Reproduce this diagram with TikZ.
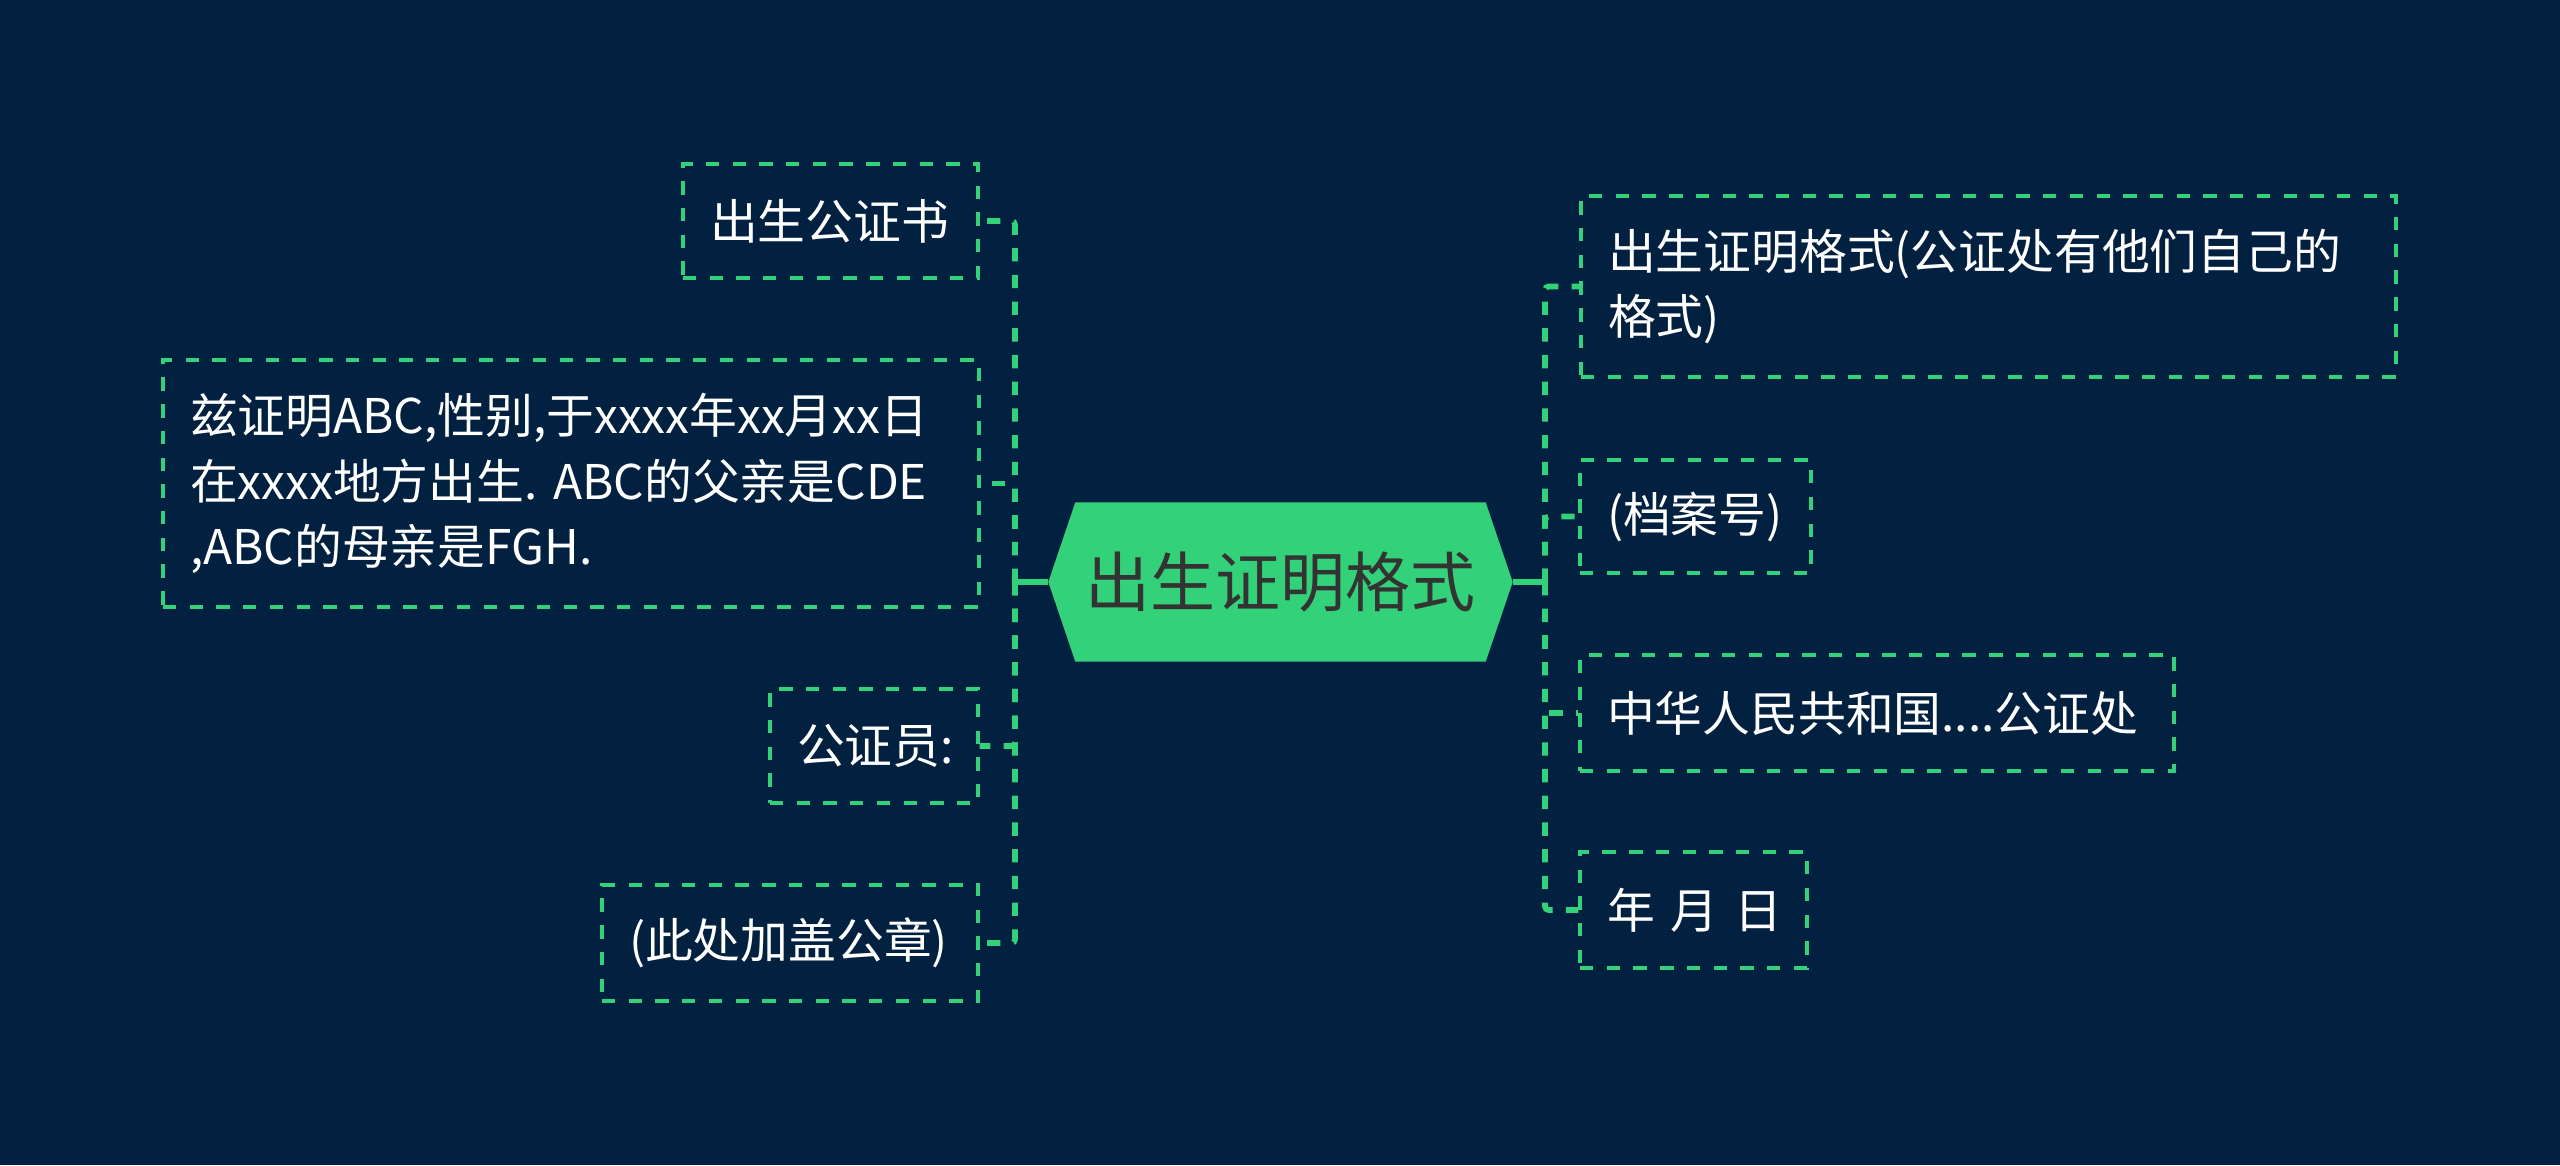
\documentclass[tikz,border=0pt]{standalone}
\usepackage{fontspec}
\setmainfont{Noto Sans CJK SC}
\usepackage{xcolor}
\definecolor{clCanvas}{HTML}{02203F}
\definecolor{clBranch}{HTML}{33D17A}
\definecolor{clTopicText}{HTML}{333333}
\usetikzlibrary{backgrounds}
\frenchspacing
\tikzset{
  topic/.style={rectangle, inner sep=0pt, minimum width=4.63cm, minimum height=1.58cm,
                text=clTopicText, font=\fontsize{18.5}{22}\selectfont},
  leaf/.style={rectangle, draw=clBranch, line width=0.9pt, dash pattern=on 3.8pt off 3.8pt,
               inner xsep=0.27cm, inner ysep=0pt, align=left, text=white,
               font=\fontsize{13.6}{18.6}\selectfont},
  link/.style={draw=clBranch, line width=1.6pt, dash pattern=on 3.8pt off 3.8pt, rounded corners=1pt},
  stub/.style={draw=clBranch, line width=1.6pt},
}

\begin{document}
\begin{tikzpicture}
  \useasboundingbox (0,0) rectangle (25.6,11.65);
  \node[topic] (root) at (12.805,5.83) {出生证明格式};
  \coordinate (hubL) at (10.15,5.83);
  \coordinate (hubR) at (15.45,5.83);

  \node[leaf, text width=2.41cm, minimum height=1.14cm] (pub) at (8.305,9.44) {出生公证书};
  \node[leaf, text width=7.62cm, minimum height=2.47cm] (stmt) at (5.71,6.815)
    {兹证明ABC,性别,于xxxx年xx月xx日\\在xxxx地方出生. ABC的父亲是CDE\\,ABC的母亲是FGH.};
  \node[leaf, text width=1.54cm, minimum height=1.14cm] (notary) at (8.74,4.19) {公证员:};
  \node[leaf, text width=3.22cm, minimum height=1.16cm] (seal) at (7.90,2.22) {(此处加盖公章)};

  \node[leaf, text width=7.61cm, minimum height=1.81cm] (fmt) at (19.885,8.785)
    {出生证明格式(公证处有他们自己的\\格式)};
  \node[leaf, text width=1.77cm, minimum height=1.13cm] (file) at (16.955,6.485) {(档案号)};
  \node[leaf, text width=5.40cm, minimum height=1.16cm] (office) at (18.77,4.52) {中华人民共和国....公证处};
  \node[leaf, text width=1.73cm, minimum height=1.16cm] (date) at (16.935,2.55) {\mbox{年 月 日}};

  \draw[stub] (root.west) -- (hubL);
  \draw[stub] (root.east) -- (hubR);
  \draw[link] (hubL) |- (pub.east);
  \draw[link] (hubL) |- (stmt.east);
  \draw[link] (hubL) |- (notary.east);
  \draw[link] (hubL) |- (seal.east);
  \draw[link] (hubR) |- (fmt.west);
  \draw[link] (hubR) |- (file.west);
  \draw[link] (hubR) |- (office.west);
  \draw[link] (hubR) |- (date.west);

  \begin{scope}[on background layer]
    \fill[clCanvas] (0,0) rectangle (25.6,11.65);
    \fill[clBranch] (root.west) -- ([xshift=0.27cm]root.north west) -- ([xshift=-0.27cm]root.north east)
      -- (root.east) -- ([xshift=-0.27cm]root.south east) -- ([xshift=0.27cm]root.south west) -- cycle;
  \end{scope}
\end{tikzpicture}
\end{document}
